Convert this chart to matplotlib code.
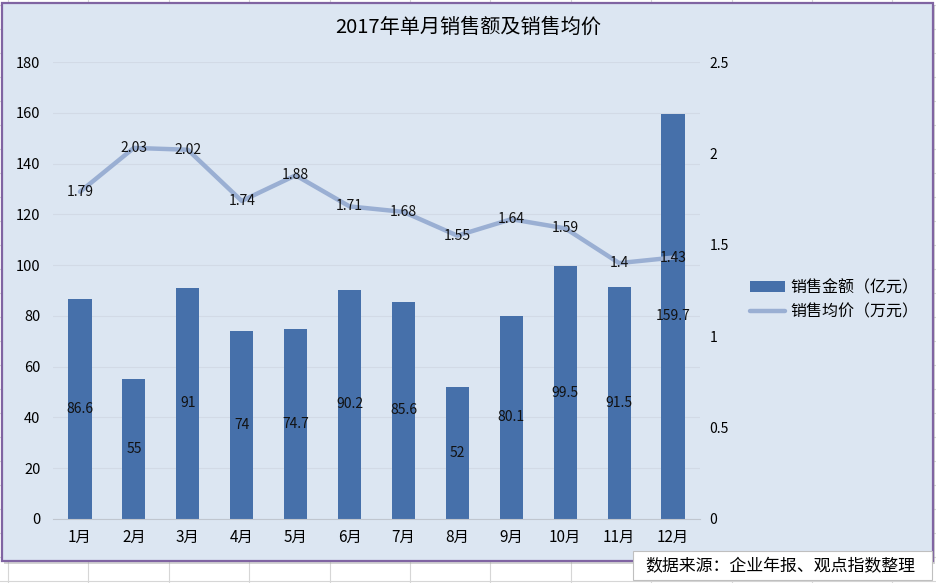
import numpy as np
import matplotlib
matplotlib.use('Agg')
import matplotlib.pyplot as plt
from matplotlib.patches import Rectangle
from matplotlib.lines import Line2D

months = ['1月', '2月', '3月', '4月', '5月', '6月', '7月', '8月', '9月', '10月', '11月', '12月']
sales = [86.6, 55, 91, 74, 74.7, 90.2, 85.6, 52, 80.1, 99.5, 91.5, 159.7]
avg_price = [1.79, 2.03, 2.02, 1.74, 1.88, 1.71, 1.68, 1.55, 1.64, 1.59, 1.4, 1.43]
left_ticks = [0, 20, 40, 60, 80, 100, 120, 140, 160, 180]
right_ticks = [0, 0.5, 1, 1.5, 2, 2.5]
right_labels = ['0', '0.5', '1', '1.5', '2', '2.5']

title = '2017年单月销售额及销售均价'
source = '数据来源：企业年报、观点指数整理'
bar_name = '销售金额（亿元）'
line_name = '销售均价（万元）'

plt.rcParams['font.family'] = ['Noto Sans CJK SC', 'DejaVu Sans']

W, H = 937, 583
bar_color = '#4670aa'
line_color = '#9aafd3'
bg_color = '#dce6f2'

fig = plt.figure(figsize=(W / 100, H / 100), dpi=100)
fig.patch.set_facecolor('white')

# spreadsheet cells behind the chart
for x in np.arange(8, W, 80.4):
    fig.add_artist(Line2D([x / W, x / W], [0, 1], color='#d6d6d6', lw=0.8, zorder=-3))
for y in np.arange(5, H, 24):
    fig.add_artist(Line2D([0, 1], [1 - y / H, 1 - y / H], color='#d6d6d6', lw=0.8, zorder=-3))

# chart area with shadow and purple border
fig.add_artist(Rectangle((4 / W, 1 - 564 / H), 931 / W, 559 / H, transform=fig.transFigure,
                         facecolor='#a9a9a9', edgecolor='none', alpha=0.5, zorder=-2.5))
fig.add_artist(Rectangle((2 / W, 1 - 561 / H), 931 / W, 558 / H, transform=fig.transFigure,
                         facecolor=bg_color, edgecolor='#8064a2', lw=1.6, zorder=-2))

ax = fig.add_axes([53 / W, (H - 519) / H, 647 / W, 457 / H])
ax.patch.set_visible(False)
x = np.arange(len(months))
bars = ax.bar(x, sales, width=0.43, color=bar_color, zorder=2, label=bar_name)
ax.set_xlim(-0.5, len(months) - 0.5)
ax.set_ylim(0, 180)
ax.set_yticks(left_ticks)
ax.set_xticks(x)
ax.set_xticklabels(months, fontsize=11)
ax.tick_params(axis='y', length=0, pad=9, labelsize=10.5)
ax.tick_params(axis='x', length=0, pad=7)
ax.yaxis.grid(True, color='#d2dae6', lw=0.8, zorder=0)
ax.set_axisbelow(True)
for s in ['left', 'right', 'top']:
    ax.spines[s].set_visible(False)
ax.spines['bottom'].set_color('#c0c6cf')
for i, v in enumerate(sales):
    ax.text(i, v / 2, '%g' % v, ha='center', va='center', fontsize=10, color='#111111', zorder=3)

ax2 = ax.twinx()
ax2.patch.set_visible(False)
ln, = ax2.plot(x, avg_price, color=line_color, lw=3.2, solid_capstyle='round', zorder=3, label=line_name)
ax2.set_ylim(0, 2.5)
ax2.set_yticks(right_ticks)
ax2.set_yticklabels(right_labels)
ax2.tick_params(axis='y', length=0, pad=7, labelsize=10)
for s in ['left', 'right', 'top', 'bottom']:
    ax2.spines[s].set_visible(False)
for i, v in enumerate(avg_price):
    ax2.text(i, v, '%g' % v, ha='center', va='center', fontsize=10, color='#111111', zorder=4)

fig.legend([bars, ln], [bar_name, line_name], loc='upper left',
           bbox_to_anchor=(742 / W, 1 - 271 / H), frameon=False, fontsize=11.5,
           handlelength=2.2, handletextpad=0.3, borderpad=0, labelspacing=0.45)

fig.text(468 / W, 1 - 27 / H, title, ha='center', va='center', fontsize=14.5)

# source note box
fig.add_artist(Rectangle((633 / W, 1 - 580 / H), 299 / W, 29 / H, transform=fig.transFigure,
                         facecolor='white', edgecolor='#bfbfbf', lw=0.8, zorder=5))
fig.text(645 / W, 1 - 566 / H, source, ha='left', va='center', fontsize=12.2, zorder=6)

fig.savefig('out.png', dpi=100)
